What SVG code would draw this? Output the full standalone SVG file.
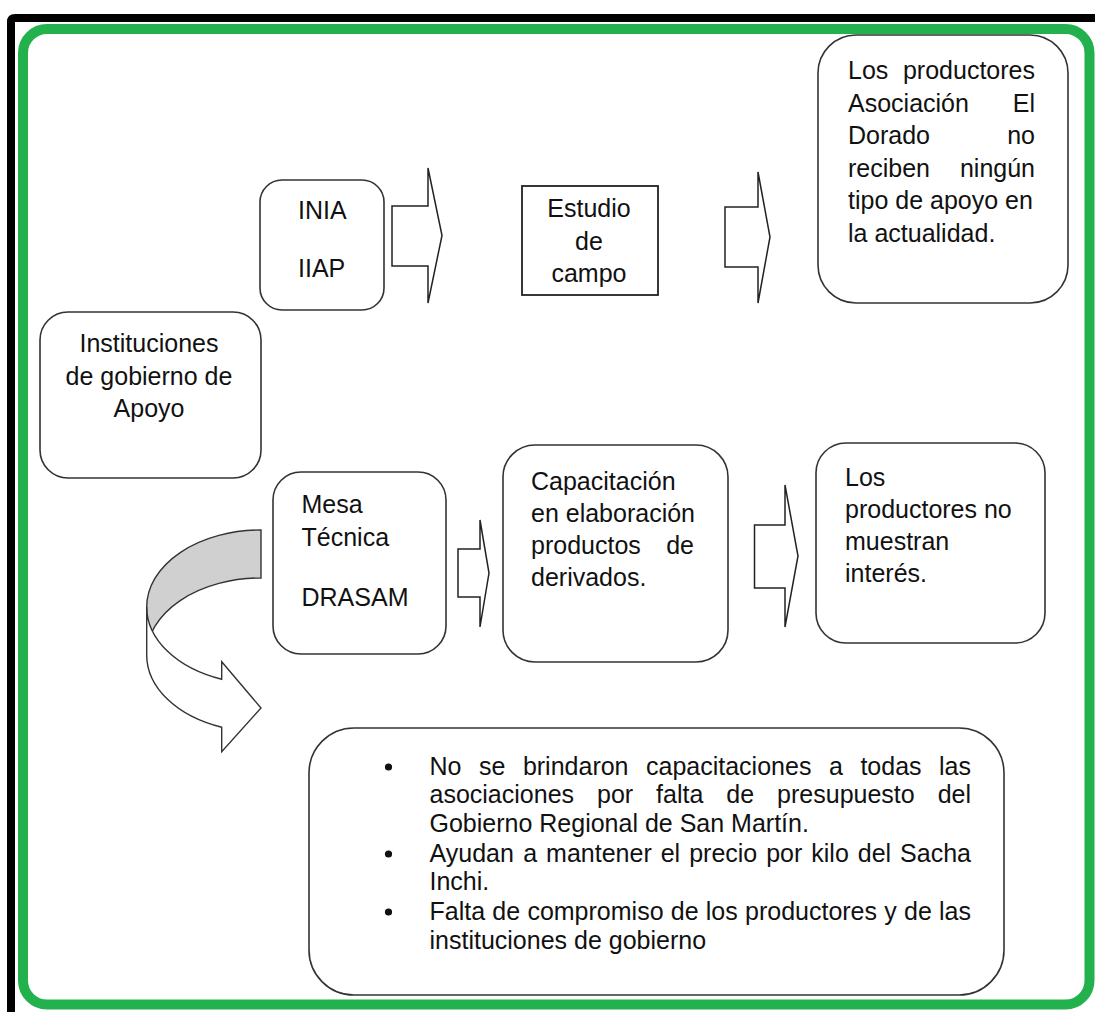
<svg xmlns="http://www.w3.org/2000/svg" width="1095" height="1012" viewBox="0 0 1095 1012">
<style>
  .frame-black { fill: none; stroke: #000; stroke-width: 8; }
  .frame-green { fill: none; stroke: #22b14c; stroke-width: 10; }
  .box { fill: #fff; stroke: #333; stroke-width: 1.6; }
  .sq { fill: #fff; stroke: #222; stroke-width: 1.8; }
  .blk { fill: #fff; stroke: #222; stroke-width: 1.5; stroke-linejoin: miter; }
  .t { font-family: "Liberation Sans", Arial, sans-serif; font-size: 25px; fill: #111; }
  .c { text-anchor: middle; }
  .e { text-anchor: end; }
  .back { fill: #d0d0d0; stroke: #333; stroke-width: 1.4; }
  .front { fill: #fff; stroke: #333; stroke-width: 1.4; stroke-linejoin: miter; }
</style>

<rect width="1095" height="1012" fill="#fff"/>

<g id="frame">
  <path class="frame-black" d="M11,1012 V22 Q11,18 15,18 H1095"/>
  <rect class="frame-green" x="23" y="29" width="1066.5" height="975.5" rx="24"/>
</g>

<g id="connectors">
  <path class="blk" d="M392,206 H428 V168 L442,235.5 L428,303 V266 H392 Z"/>
  <path class="blk" d="M725,207 H758 V172 L770,237 L758,303 V267 H725 Z"/>
  <path class="blk" d="M458,549 H480 V520 L489,573 L480,627 V597 H458 Z"/>
  <path class="blk" d="M754.5,525 H785 V485 L798,556 L785,627 V588 H754.5 Z"/>
  <g id="curved-arrow">
    <path class="back" d="M261,530 A114.3,77 0 0 0 146.7,607 L146.7,655 A114.3,77 0 0 1 261,578 Z"/>
    <path class="front" d="M146.7,607 A114.3,77 0 0 0 221.7,679.3 L221.7,661.7 L261,708 L221.7,751.7 L221.7,727.3 A114.3,77 0 0 1 146.7,655 Z"/>
  </g>
</g>

<g id="node-instituciones">
  <rect class="box" x="40" y="312" width="221" height="166" rx="28"/>
  <text class="t c" x="149" y="352">Instituciones</text>
  <text class="t c" x="149" y="385">de gobierno de</text>
  <text class="t c" x="149" y="417">Apoyo</text>
</g>

<g id="node-inia-iiap">
  <rect class="box" x="260" y="180" width="124" height="130" rx="22"/>
  <text class="t" x="298" y="219">INIA</text>
  <text class="t" x="298" y="277">IIAP</text>
</g>

<g id="node-estudio">
  <rect class="sq" x="522" y="186" width="136" height="109"/>
  <text class="t c" x="589" y="217">Estudio</text>
  <text class="t c" x="589" y="250">de</text>
  <text class="t c" x="589" y="282">campo</text>
</g>

<g id="node-sin-apoyo">
  <rect class="box" x="818" y="35" width="250" height="268" rx="38"/>
  <text class="t" x="848" y="79">Los</text>
  <text class="t e" x="1035" y="79">productores</text>
  <text class="t" x="848" y="111.5">Asociación</text>
  <text class="t e" x="1035" y="111.5">El</text>
  <text class="t" x="848" y="144">Dorado</text>
  <text class="t e" x="1035" y="144">no</text>
  <text class="t" x="848" y="176.5">reciben</text>
  <text class="t e" x="1035" y="176.5">ningún</text>
  <text class="t" x="848" y="209">tipo de apoyo en</text>
  <text class="t" x="848" y="241.5">la actualidad.</text>
</g>

<g id="node-mesa-tecnica">
  <rect class="box" x="273" y="472" width="173" height="182" rx="28"/>
  <text class="t" x="301.5" y="513">Mesa</text>
  <text class="t" x="301.5" y="546">Técnica</text>
  <text class="t" x="301.5" y="606">DRASAM</text>
</g>

<g id="node-capacitacion">
  <rect class="box" x="503" y="445" width="225" height="217" rx="32"/>
  <text class="t" x="531" y="490">Capacitación</text>
  <text class="t" x="531" y="522">en elaboración</text>
  <text class="t" x="531" y="554">productos</text>
  <text class="t e" x="694" y="554">de</text>
  <text class="t" x="531" y="586">derivados.</text>
</g>

<g id="node-sin-interes">
  <rect class="box" x="816" y="443" width="229" height="200" rx="30"/>
  <text class="t" x="845" y="486">Los</text>
  <text class="t" x="845" y="518">productores no</text>
  <text class="t" x="845" y="550">muestran</text>
  <text class="t" x="845" y="582">interés.</text>
</g>

<g id="node-observaciones">
  <rect class="box" x="309" y="728" width="695" height="267" rx="45"/>
  <circle cx="388.5" cy="767" r="3.6" fill="#111"/>
  <circle cx="388.5" cy="854" r="3.6" fill="#111"/>
  <circle cx="388.5" cy="912" r="3.6" fill="#111"/>
  <text class="t" y="775"><tspan x="429.5">No</tspan><tspan x="479">se</tspan><tspan x="522.9">brindaron</tspan><tspan x="646">capacitaciones</tspan><tspan x="828.9">a</tspan><tspan x="860.4">todas</tspan><tspan x="939">las</tspan></text>
  <text class="t" y="803"><tspan x="429.5">asociaciones</tspan><tspan x="597">por</tspan><tspan x="656.1">falta</tspan><tspan x="726.3">de</tspan><tspan x="777.1">presupuesto</tspan><tspan x="937.7">del</tspan></text>
  <text class="t" x="429.5" y="832">Gobierno Regional de San Martín.</text>
  <text class="t" y="862"><tspan x="429.5">Ayudan</tspan><tspan x="523.3">a</tspan><tspan x="546.1">mantener</tspan><tspan x="660.7">el</tspan><tspan x="689.2">precio</tspan><tspan x="766.2">por</tspan><tspan x="811.3">kilo</tspan><tspan x="857.8">del</tspan><tspan x="900.1">Sacha</tspan></text>
  <text class="t" x="429.5" y="890">Inchi.</text>
  <text class="t" y="920"><tspan x="429.5">Falta</tspan><tspan x="492.3">de</tspan><tspan x="527.4">compromiso</tspan><tspan x="670.8">de</tspan><tspan x="705.8">los</tspan><tspan x="745">productores</tspan><tspan x="884.3">y</tspan><tspan x="904">de</tspan><tspan x="939">las</tspan></text>
  <text class="t" x="429.5" y="949">instituciones de gobierno</text>
</g>
</svg>
